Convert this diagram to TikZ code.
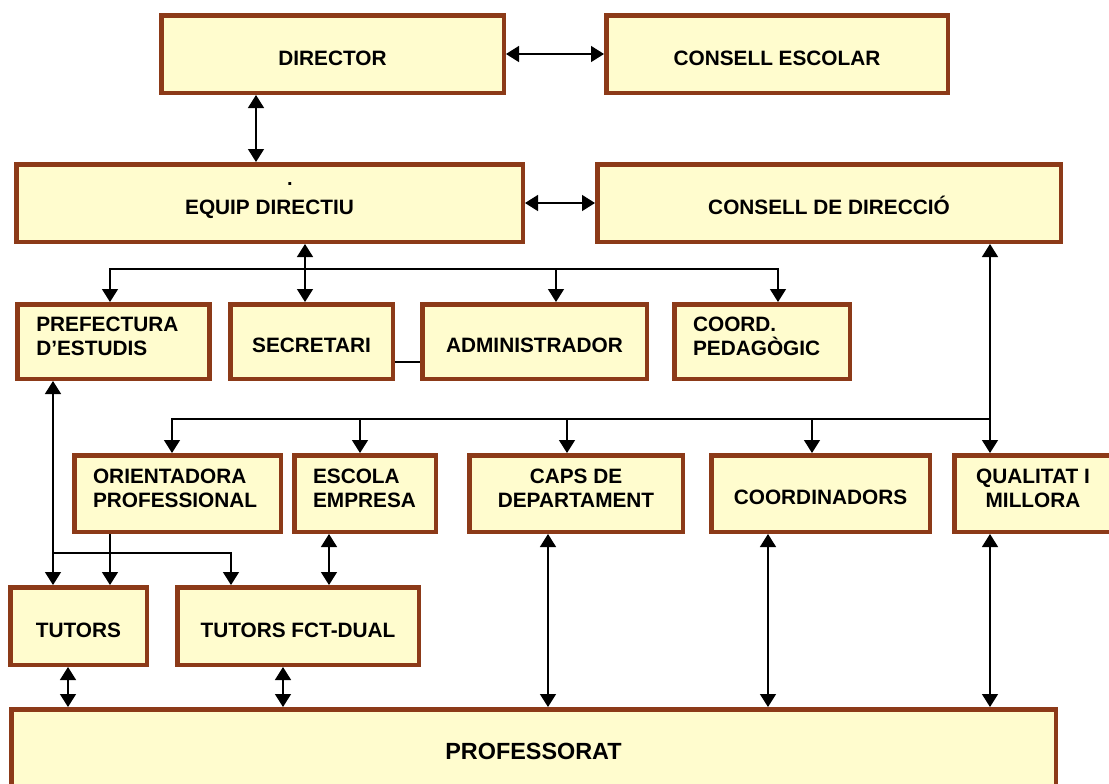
\documentclass[tikz,border=0pt]{standalone}
\usepackage{fontspec}
\setmainfont{Liberation Sans}
\usetikzlibrary{arrows.meta,positioning}
\definecolor{boxbrown}{RGB}{140,58,24}
\definecolor{boxfill}{RGB}{255,252,206}
\tikzset{
  box/.style={draw=boxbrown,fill=boxfill,line width=2.25pt,font=\fontsize{10.4pt}{12pt}\selectfont\bfseries,inner sep=0pt},
  sbox/.style={box,text height=11pt,text depth=0pt},
  lbox/.style={box,align=left,inner xsep=9.4pt,text depth=17pt},
  cbox/.style={box,align=center,text depth=5pt},
  one/.style={line width=0.7pt,-{Triangle[length=6.5pt,width=8pt]}},
  dbl/.style={line width=0.7pt,{Triangle[length=6.5pt,width=8pt]}-{Triangle[length=6.5pt,width=8pt]}},
}
\begin{document}
\begin{tikzpicture}[x=0.5pt,y=-0.5pt]
        \useasboundingbox(0,0)rectangle(1109,783);
        \clip(0,0)rectangle(1109,783);
        \node[sbox,minimum width=171.25pt,minimum height=38.75pt](dir)at(332.5,54){DIRECTOR};
        \node[sbox,minimum width=170.75pt,minimum height=38.75pt](ces)at(777,54){CONSELL ESCOLAR};
        \node[sbox,minimum width=253.25pt,minimum height=38.75pt](equip)at(269.5,203){EQUIP DIRECTIU};
        \node[sbox,minimum width=231.75pt,minimum height=38.75pt](cdd)at(829,203){CONSELL DE DIRECCIÓ};
        \node[font=\bfseries](dot)at(290,184){.};
        \node[lbox,text width=77.25pt,minimum height=37.25pt](pref)at(113.5,341.5){PREFECTURA\\D’ESTUDIS};
        \node[sbox,minimum width=81.25pt,minimum height=37.25pt](secr)at(311.5,341.5){SECRETARI};
        \node[sbox,minimum width=112.25pt,minimum height=37.25pt](admin)at(534.5,341.5){ADMINISTRADOR};
        \node[lbox,text width=68.95pt,minimum height=37.25pt](coord)at(762,341.5){COORD.\\PEDAGÒGIC};
        \node[lbox,text width=84.45pt,minimum height=38.25pt](orient)at(177.5,493.5){ORIENTADORA\\PROFESSIONAL};
        \node[lbox,text width=51.95pt,minimum height=38.25pt](escola)at(365,493.5){ESCOLA\\EMPRESA};
        \node[cbox,minimum width=106.75pt,minimum height=38.25pt](caps)at(576,493.5){CAPS DE\\DEPARTAMENT};
        \node[sbox,minimum width=109.25pt,minimum height=38.25pt](coordin)at(820.5,493.5){COORDINADORS};
        \node[cbox,minimum width=78.75pt,minimum height=38.25pt](qual)at(1033,493.5){QUALITAT I\\MILLORA};
        \node[sbox,minimum width=68.25pt,minimum height=38.75pt](tutors)at(78.5,626){TUTORS};
        \node[sbox,minimum width=120.75pt,minimum height=38.75pt](tfct)at(298,626){TUTORS FCT-DUAL};
        \node[box,font=\fontsize{11.7pt}{14pt}\selectfont\bfseries,minimum width=522.25pt,minimum height=41.75pt](prof)at(533.5,751){PROFESSORAT};
        \draw[dbl](dir.east)--(ces.west);
        \draw[dbl](256,0|-dir.south)--(256,0|-equip.north);
        \draw[dbl](equip.east)--(cdd.west);
        \draw[dbl](305,0|-equip.south)--(305,0|-secr.north);
        \draw[dbl](110,0|-pref.north)|-(778,269)--(778,0|-coord.north);
        \draw[one](556,269)--(556,0|-admin.north);
        \draw[line width=0.7pt](secr.east|-0,362)--(admin.west|-0,362);
        \draw[dbl](990,0|-cdd.south)--(990,0|-qual.north);
        \draw[one](990,419)-|(172,0|-orient.north);
        \foreach \u/\n in {360/escola,567/caps,812/coordin}
        \draw[one](\u,419)--(\u,0|-\n.north);
        \draw[dbl](53,0|-pref.south)--(53,0|-tutors.north);
        \draw[one](53,553)-|(231,0|-tfct.north);
        \draw[one](110,0|-orient.south)--(110,0|-tutors.north);
        \draw[dbl](329,0|-escola.south)--(329,0|-tfct.north);
        \foreach \u/\n in {68/tutors,283/tfct,548/caps,768/coordin,990/qual}
        \draw[dbl](\u,0|-\n.south)--(\u,0|-prof.north);
\end{tikzpicture}
\end{document}
